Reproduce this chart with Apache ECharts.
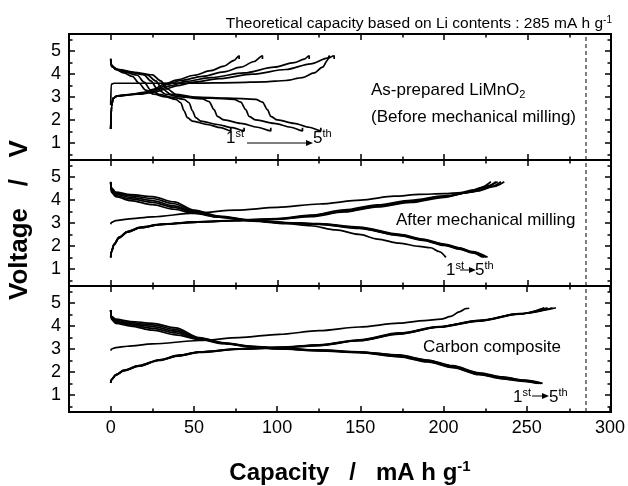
<!DOCTYPE html>
<html>
<head>
<meta charset="UTF-8">
<title>LiMnO2 charge-discharge</title>
<script src="https://cdn.jsdelivr.net/npm/echarts@6/dist/echarts.min.js"></script>
</head>
<body style="margin:0">
<div id="main" style="width:628px;height:486px;"></div>
<script type="text/javascript">
// axis ranges and ticks: [min, max, interval]
var xRange = [-25, 300];
var yRange = [0.25, 5.75];
var xMajorTicks = [0, 300, 50];
var xMinorTicks = [25, 275, 50];
var yMajorTicks = [1, 5, 1];
var yMinorTicks = [0.5, 5.5, 0.5];
var theoreticalCapacity = 285;

// As-prepared LiMnO2  [capacity, voltage], cycles 1..5
var asPreparedCharge = [
  [[0,2.65],[0.3,3.55],[2,3.6],[25,3.6],[50,3.61],[75,3.63],[92,3.66],[105,3.72],[115,3.85],[122,4.05],[127,4.3],[130,4.6],[131,4.8],[131,4.68]],
  [[0,1.6],[0.5,2.6],[1.5,2.95],[4,3.05],[12,3.12],[20,3.2],[26,3.35],[32,3.55],[40,3.75],[50,3.95],[60,4.15],[68,4.35],[74,4.6],[77,4.8],[77,4.66]],
  [[0,1.6],[0.5,2.6],[1.5,2.95],[4,3.05],[14,3.12],[22,3.2],[28,3.35],[34,3.55],[42,3.72],[55,3.9],[68,4.1],[78,4.3],[86,4.55],[91,4.8],[91,4.66]],
  [[0,1.6],[0.5,2.6],[1.5,2.95],[4,3.05],[15,3.12],[24,3.2],[30,3.35],[36,3.5],[45,3.68],[60,3.85],[80,4.05],[98,4.3],[110,4.5],[116,4.65],[119,4.8],[119,4.66]],
  [[0,1.6],[0.5,2.6],[1.5,2.95],[4,3.05],[16,3.12],[26,3.2],[33,3.35],[40,3.5],[50,3.65],[65,3.8],[85,4.0],[105,4.2],[120,4.45],[130,4.7],[134,4.8],[134,4.66]]
];
var asPreparedDischarge = [
  [[0,4.68],[0.5,4.4],[3,4.2],[8,4.05],[13,3.9],[17,3.6],[21,3.3],[26,3.12],[33,3.0],[39,2.9],[42,2.75],[44,2.4],[46,2.1],[49,1.95],[58,1.8],[66,1.66],[72,1.52],[72,1.66]],
  [[0,4.66],[0.5,4.38],[3,4.2],[9,4.07],[16,3.95],[20,3.65],[24,3.3],[29,3.12],[36,3.0],[44,2.9],[47,2.75],[49,2.4],[51,2.1],[54,1.95],[64,1.8],[73,1.66],[80,1.52],[80,1.66]],
  [[0,4.64],[0.5,4.36],[4,4.2],[11,4.08],[20,3.97],[24,3.7],[28,3.35],[33,3.12],[42,3.0],[55,2.92],[59,2.8],[62,2.45],[64,2.15],[68,2.0],[78,1.85],[88,1.68],[96,1.52],[96,1.66]],
  [[0,4.62],[0.5,4.34],[4,4.2],[12,4.08],[22,3.97],[27,3.7],[31,3.35],[36,3.12],[46,3.0],[60,2.95],[74,2.9],[78,2.78],[81,2.45],[83,2.15],[87,2.0],[98,1.85],[108,1.68],[115,1.52],[115,1.66]],
  [[0,4.6],[0.5,4.32],[5,4.2],[14,4.08],[25,3.97],[30,3.7],[34,3.35],[39,3.12],[50,3.0],[70,2.95],[87,2.9],[91,2.78],[94,2.45],[96,2.15],[100,2.0],[110,1.85],[119,1.68],[126,1.52],[126,1.66]]
];

// After mechanical milling
var milledCharge = [
  [[0,2.95],[0.5,3.03],[3,3.1],[10,3.17],[25,3.27],[50,3.43],[75,3.56],[100,3.68],[125,3.83],[150,4.0],[170,4.17],[185,4.25],[200,4.28],[210,4.33],[218,4.45],[226,4.62],[232,4.8]],
  [[0,1.5],[0.5,1.75],[2,2.05],[5,2.35],[10,2.6],[18,2.8],[30,2.93],[50,3.03],[75,3.1],[100,3.16],[120,3.28],[140,3.48],[160,3.7],[180,3.9],[200,4.12],[214,4.33],[222,4.55],[228,4.8]],
  [[0,1.5],[0.5,1.76],[2,2.06],[5,2.36],[10,2.61],[18,2.8],[30,2.93],[50,3.03],[75,3.1],[100,3.17],[120,3.3],[140,3.51],[160,3.73],[180,3.93],[200,4.14],[216,4.35],[225,4.56],[231,4.8]],
  [[0,1.5],[0.5,1.77],[2,2.07],[5,2.37],[10,2.62],[18,2.81],[30,2.94],[50,3.04],[75,3.11],[100,3.18],[120,3.32],[140,3.54],[160,3.76],[180,3.96],[200,4.16],[218,4.37],[228,4.58],[234,4.8]],
  [[0,1.5],[0.5,1.78],[2,2.08],[5,2.38],[10,2.63],[18,2.82],[30,2.95],[50,3.05],[75,3.12],[100,3.19],[120,3.34],[140,3.57],[160,3.79],[180,3.99],[200,4.18],[220,4.4],[230,4.6],[236,4.8]]
];
var milledDischarge = [
  [[0,4.75],[0.3,4.35],[3,4.15],[12,3.98],[25,3.8],[38,3.6],[50,3.42],[65,3.25],[85,3.08],[105,2.97],[120,2.88],[135,2.7],[149,2.5],[160,2.3],[173,2.12],[185,1.98],[192,1.92],[197,1.75],[201,1.5]],
  [[0,4.77],[0.3,4.4],[3,4.2],[12,4.05],[25,3.9],[38,3.68],[50,3.45],[65,3.26],[85,3.1],[105,3.0],[125,2.94],[149,2.76],[173,2.45],[187,2.24],[200,2.02],[209,1.86],[217,1.7],[223,1.5]],
  [[0,4.78],[0.3,4.45],[3,4.26],[12,4.12],[25,3.98],[38,3.75],[50,3.48],[65,3.27],[85,3.1],[105,3.0],[125,2.95],[149,2.78],[173,2.47],[187,2.26],[200,2.04],[209,1.88],[217,1.71],[224,1.5]],
  [[0,4.79],[0.3,4.5],[3,4.3],[12,4.18],[25,4.07],[38,3.84],[50,3.52],[65,3.28],[85,3.11],[105,3.01],[125,2.96],[149,2.8],[173,2.49],[187,2.28],[200,2.06],[209,1.9],[217,1.73],[225,1.5]],
  [[0,4.8],[0.3,4.55],[3,4.35],[12,4.24],[25,4.15],[38,3.92],[50,3.56],[65,3.3],[85,3.12],[105,3.02],[125,2.97],[149,2.82],[173,2.51],[187,2.3],[200,2.08],[209,1.92],[217,1.75],[226,1.5]]
];

// Carbon composite
var compositeCharge = [
  [[0,2.93],[0.5,3.0],[3,3.06],[10,3.12],[25,3.22],[53,3.37],[77,3.5],[101,3.64],[125,3.8],[149,3.96],[173,4.13],[188,4.24],[198,4.3],[204,4.42],[209,4.62],[213,4.76],[215,4.78]],
  [[0,1.52],[0.5,1.65],[3,1.85],[8,2.05],[17,2.25],[29,2.5],[41,2.7],[53,2.85],[77,2.99],[101,3.05],[125,3.15],[149,3.36],[173,3.65],[197,3.95],[221,4.22],[245,4.52],[260,4.8]],
  [[0,1.52],[0.5,1.66],[3,1.86],[8,2.06],[17,2.26],[29,2.51],[41,2.71],[53,2.86],[77,3.0],[101,3.06],[125,3.16],[149,3.37],[173,3.67],[197,3.96],[221,4.23],[245,4.53],[262,4.8]],
  [[0,1.52],[0.5,1.67],[3,1.87],[8,2.07],[17,2.27],[29,2.52],[41,2.72],[53,2.87],[77,3.0],[101,3.07],[125,3.17],[149,3.38],[173,3.68],[197,3.97],[221,4.24],[245,4.53],[265,4.8]],
  [[0,1.52],[0.5,1.68],[3,1.88],[8,2.08],[17,2.28],[29,2.53],[41,2.73],[53,2.88],[77,3.01],[101,3.08],[125,3.18],[149,3.4],[173,3.7],[197,3.98],[221,4.25],[245,4.54],[267,4.8]]
];
var compositeDischarge = [
  [[0,4.7],[0.3,4.3],[3,4.12],[12,4.0],[25,3.82],[39,3.62],[53,3.42],[68,3.23],[85,3.08],[101,3.0],[125,2.92],[149,2.84],[173,2.66],[190,2.44],[205,2.19],[221,1.88],[235,1.7],[246,1.6],[256,1.5]],
  [[0,4.7],[0.3,4.33],[3,4.16],[12,4.05],[25,3.9],[39,3.7],[53,3.44],[68,3.24],[85,3.09],[101,3.01],[125,2.93],[149,2.85],[173,2.68],[190,2.46],[205,2.21],[221,1.9],[235,1.72],[247,1.61],[257,1.5]],
  [[0,4.7],[0.3,4.36],[3,4.2],[12,4.1],[25,3.98],[39,3.78],[53,3.46],[68,3.25],[85,3.1],[101,3.02],[125,2.94],[149,2.86],[173,2.7],[190,2.48],[205,2.23],[221,1.92],[235,1.74],[247,1.62],[258,1.5]],
  [[0,4.7],[0.3,4.4],[3,4.25],[12,4.15],[25,4.05],[39,3.85],[53,3.48],[68,3.26],[85,3.11],[101,3.03],[125,2.95],[149,2.87],[173,2.72],[190,2.5],[205,2.25],[221,1.94],[235,1.76],[248,1.63],[258,1.5]],
  [[0,4.7],[0.3,4.44],[3,4.3],[12,4.2],[25,4.12],[39,3.92],[53,3.5],[68,3.27],[85,3.12],[101,3.04],[125,2.96],[149,2.88],[173,2.74],[190,2.52],[205,2.27],[221,1.96],[235,1.78],[248,1.64],[259,1.5]]
];

var font = '"Liberation Sans", Arial, sans-serif';

// grid geometry (px)
var gridLeft = 69, gridWidth = 542, gridHeight = 126;
var panels = [
  {top: 34, charge: asPreparedCharge, discharge: asPreparedDischarge},
  {top: 160, charge: milledCharge, discharge: milledDischarge},
  {top: 286, charge: compositeCharge, discharge: compositeDischarge}
];
var pxPerX = gridWidth / (xRange[1] - xRange[0]);
var pxPerY = gridHeight / (yRange[1] - yRange[0]);

var myChart = echarts.init(document.getElementById('main'));
var grid = [], xAxis = [], yAxis = [], series = [];
var labelStyle = {color: '#000', fontSize: 18, fontFamily: font};
var tickLine = {color: '#000', width: 1.5};

function hiddenAxis(gi) {
  return {type: 'value', gridIndex: gi, min: 0, max: 1, show: false,
    axisLine: {show: false}, axisTick: {show: false}, axisLabel: {show: false}, splitLine: {show: false}};
}
function tickAxis(gi, pos, t, len, withLabel, margin) {
  return {
    type: 'value', gridIndex: gi, position: pos, min: t[0], max: t[1], interval: t[2],
    axisLine: {show: false, onZero: false},
    axisTick: {show: true, inside: true, length: len, lineStyle: tickLine},
    axisLabel: withLabel
      ? Object.assign({show: true, margin: margin, showMinLabel: true, showMaxLabel: true}, labelStyle)
      : {show: false},
    splitLine: {show: false}
  };
}
// grid covering only the ticked span of a panel
function yTickGrid(p, t) {
  return {left: gridLeft, width: gridWidth,
    top: p.top + (yRange[1] - t[1]) * pxPerY, height: (t[1] - t[0]) * pxPerY};
}
function xTickGrid(p, t) {
  return {left: gridLeft + (t[0] - xRange[0]) * pxPerX, width: (t[1] - t[0]) * pxPerX,
    top: p.top, height: gridHeight};
}

panels.forEach(function (p, g) {
  var last = g === panels.length - 1;

  // data grid with full black border
  var gi = grid.length;
  grid.push({left: gridLeft, width: gridWidth, top: p.top, height: gridHeight,
    show: true, borderColor: '#000', borderWidth: 2, backgroundColor: 'transparent'});
  var xi = xAxis.length, yi = yAxis.length;
  xAxis.push({type: 'value', gridIndex: gi, min: xRange[0], max: xRange[1],
    axisLine: {show: false}, axisTick: {show: false}, axisLabel: {show: false}, splitLine: {show: false}});
  yAxis.push({type: 'value', gridIndex: gi, min: yRange[0], max: yRange[1],
    axisLine: {show: false}, axisTick: {show: false}, axisLabel: {show: false}, splitLine: {show: false}});

  p.charge.concat(p.discharge).forEach(function (curve) {
    series.push({
      type: 'line', xAxisIndex: xi, yAxisIndex: yi, data: curve,
      symbol: 'none', smooth: 0.3, smoothMonotone: 'x',
      lineStyle: {color: '#000', width: 1.7}, silent: true
    });
  });
  series.push({
    type: 'line', xAxisIndex: xi, yAxisIndex: yi,
    data: [[theoreticalCapacity, yRange[0]], [theoreticalCapacity, yRange[1]]],
    symbol: 'none', lineStyle: {color: '#000', width: 1, type: [4, 3]}, silent: true
  });

  // voltage ticks: major (with labels) and minor, left and right
  [[yMajorTicks, 6, true], [yMinorTicks, 3.5, false]].forEach(function (s) {
    var k = grid.length;
    grid.push(yTickGrid(p, s[0]));
    xAxis.push(hiddenAxis(k));
    yAxis.push(tickAxis(k, 'left', s[0], s[1], s[2], 8));
    yAxis.push(tickAxis(k, 'right', s[0], s[1], false));
  });
  // capacity ticks: major (labels under last panel) and minor, bottom and top
  [[xMajorTicks, 6, last], [xMinorTicks, 3.5, false]].forEach(function (s) {
    var k = grid.length;
    grid.push(xTickGrid(p, s[0]));
    yAxis.push(hiddenAxis(k));
    xAxis.push(tickAxis(k, 'bottom', s[0], s[1], s[2], 7));
    xAxis.push(tickAxis(k, 'top', s[0], s[1], false));
  });
});

var rich = {
  n: {fontSize: 17, fontFamily: font, color: '#000', lineHeight: 20, verticalAlign: 'middle'},
  sup: {fontSize: 11, fontFamily: font, color: '#000', lineHeight: 20, verticalAlign: 'top', padding: [0, 0, 10, 0]},
  sub: {fontSize: 11, fontFamily: font, color: '#000', lineHeight: 20, verticalAlign: 'bottom', padding: [10, 0, 0, 0]}
};
function label(x, y, text, align) {
  return {type: 'text', x: x, y: y, silent: true,
    style: {text: text, rich: rich, align: align || 'left', verticalAlign: 'middle'}};
}
function arrow(x1, x2, y) {
  return [
    {type: 'line', silent: true, shape: {x1: x1, y1: y, x2: x2 - 6, y2: y}, style: {stroke: '#000', lineWidth: 1}},
    {type: 'polygon', silent: true, shape: {points: [[x2 - 7, y - 3], [x2, y], [x2 - 7, y + 3]]}, style: {fill: '#000'}}
  ];
}

var graphic = [
  {type: 'text', x: 612, y: 24, silent: true, style: {
    text: '{t|Theoretical capacity based on Li contents : 285 mA h g}{ts|-1}',
    rich: {
      t: {fontSize: 15.5, fontFamily: font, color: '#000', lineHeight: 18, verticalAlign: 'middle'},
      ts: {fontSize: 10, fontFamily: font, color: '#000', lineHeight: 18, verticalAlign: 'top', padding: [0, 0, 8, 0]}
    }, align: 'right', verticalAlign: 'middle'}},
  label(371, 90, '{n|As-prepared LiMnO}{sub|2}'),
  label(371, 117, '{n|(Before mechanical milling)}'),
  label(396, 220, '{n|After mechanical milling}'),
  label(423, 347, '{n|Carbon composite}'),
  label(226, 138, '{n|1}{sup|st}'),
  label(313, 138, '{n|5}{sup|th}'),
  label(446, 270, '{n|1}{sup|st}'),
  label(475, 270, '{n|5}{sup|th}'),
  label(513, 397, '{n|1}{sup|st}'),
  label(549, 397, '{n|5}{sup|th}'),
  {type: 'text', x: 20, y: 220, rotation: Math.PI / 2, silent: true, style: {
    text: 'Voltage   /   V', fontSize: 26, fontWeight: 'bold', fontFamily: font, fill: '#000',
    align: 'center', verticalAlign: 'middle'}},
  {type: 'text', x: 350, y: 473, silent: true, style: {
    text: '{b|Capacity   /   mA h g}{bs|-1}',
    rich: {
      b: {fontSize: 24, fontWeight: 'bold', fontFamily: font, color: '#000', lineHeight: 28, verticalAlign: 'middle'},
      bs: {fontSize: 15, fontWeight: 'bold', fontFamily: font, color: '#000', lineHeight: 28, verticalAlign: 'top', padding: [0, 0, 12, 0]}
    }, align: 'center', verticalAlign: 'middle'}}
].concat(arrow(247, 313, 143), arrow(460, 476, 270), arrow(532, 549, 396));

var option = {
  animation: false,
  backgroundColor: '#fff',
  grid: grid,
  xAxis: xAxis,
  yAxis: yAxis,
  series: series,
  graphic: graphic
};
myChart.setOption(option);
</script>
</body>
</html>
